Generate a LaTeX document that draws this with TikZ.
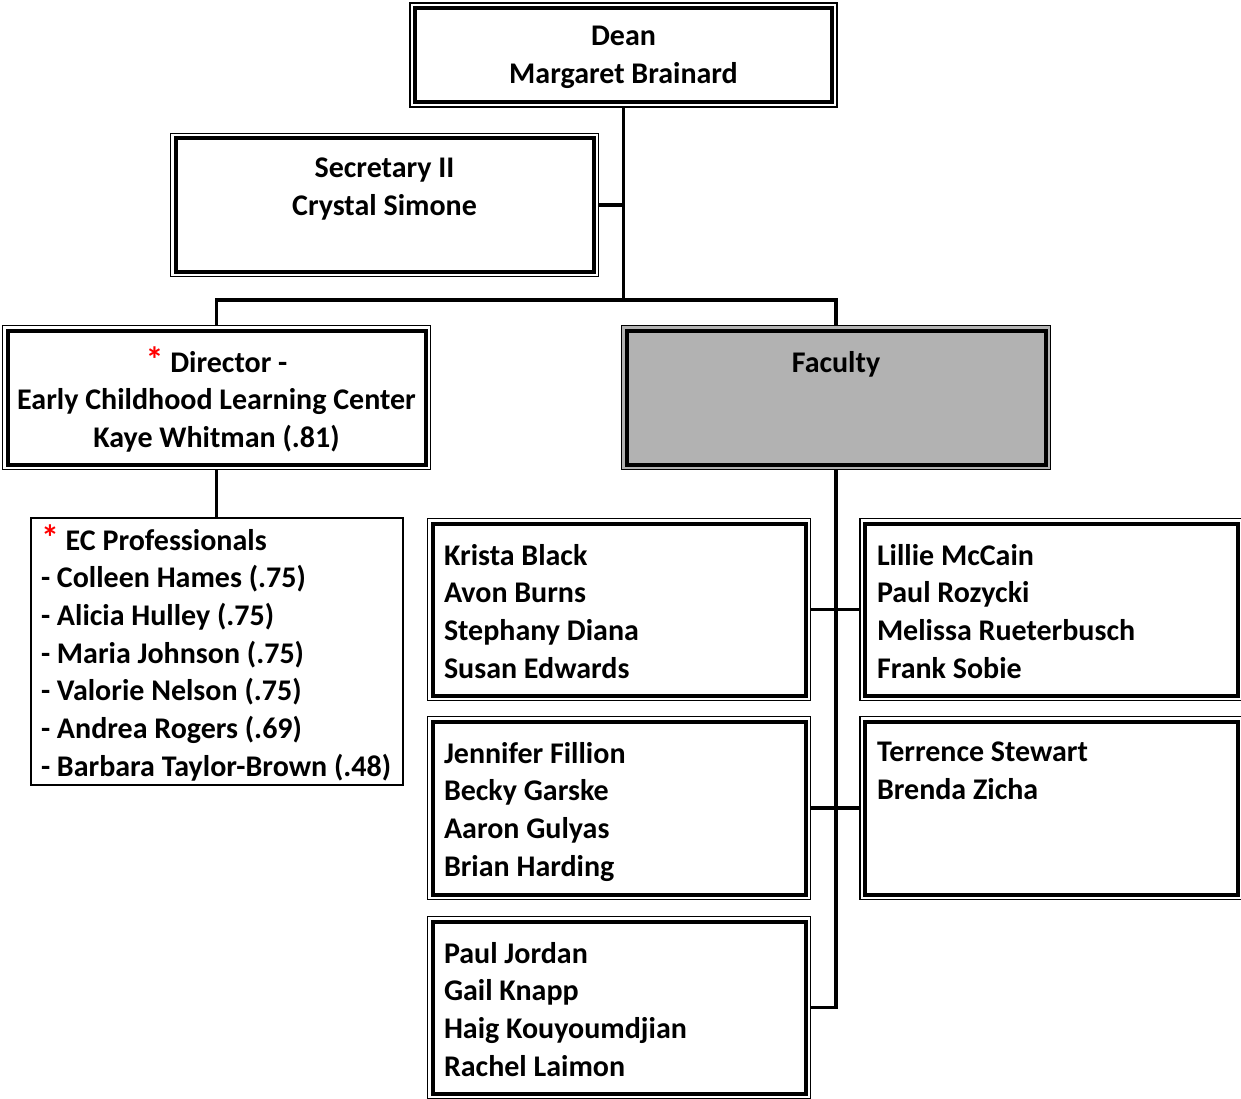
\documentclass[tikz,border=0pt]{standalone}
\usepackage{fontspec}
\setmainfont{Carlito}
\newcommand{\redstar}{\smash{\color{red}\fontsize{36}{37.7}\selectfont *}}
\begin{document}
\begin{tikzpicture}[x=1pt,y=-1pt,
  every node/.style={inner sep=0pt, outer sep=0pt},
  dbox/.style={draw, line width=1.3pt, rectangle,
    path picture={\draw[line width=4pt]
      ([shift={(5pt,-5pt)}]path picture bounding box.north west) rectangle
      ([shift={(-5pt,5pt)}]path picture bounding box.south east);}},
  sbox/.style={draw, line width=1.5pt, rectangle},
  txt/.style={font=\fontsize{30}{37.7}\selectfont\bfseries, inner sep=0pt},
  conn/.style={line width=3.8pt}
]
\useasboundingbox (0,0) rectangle (1241,1099);
\definecolor{facgray}{HTML}{B2B2B2}
% boxes
\node[dbox, minimum width=427pt, minimum height=104pt] (dean) at (623.5,55) {};
\node[dbox, minimum width=428pt, minimum height=143pt] (sec) at (384.5,205) {};
\node[dbox, minimum width=428pt, minimum height=144pt] (dir) at (216.5,397.5) {};
\node[dbox, fill=facgray, minimum width=429pt, minimum height=144pt] (fac) at (836,397.5) {};
\node[sbox, minimum width=372pt, minimum height=267pt] (ec) at (217,651.5) {};
\node[dbox, minimum width=383pt, minimum height=182pt] (k1) at (619,609.5) {};
\node[dbox, minimum width=383pt, minimum height=182pt] (l1) at (1051.5,609.5) {};
\node[dbox, minimum width=383pt, minimum height=183pt] (j1) at (619,808) {};
\node[dbox, minimum width=383pt, minimum height=183pt] (t1) at (1051.5,808) {};
\node[dbox, minimum width=383pt, minimum height=182pt] (p1) at (619,1007.5) {};
% connectors
\coordinate (bus) at (0,300);
\draw[conn] (dean.south) -- (dean.south |- bus);
\draw[conn] (sec.east) -- (sec.east -| dean.south);
\draw[conn] (dir.north) |- (dean.south |- bus) -| (fac.north);
\draw[conn] (dir.south) -- (dir.south |- ec.north);
\draw[conn] (fac.south) |- (p1.east);
\draw[conn] (k1.east) -- (l1.west);
\draw[conn] (j1.east) -- (t1.west);
% texts
\node[txt, align=center, anchor=north] (tdean) at (623.5,26) {Dean\\Margaret Brainard};
\node[txt, align=center, anchor=north] (tsec) at (384.5,158) {Secretary II\\Crystal Simone};
\node[txt, align=center, anchor=north] (tdir) at (216.5,351) {\redstar{} Director -\\Early Childhood Learning Center\\Kaye Whitman (.81)};
\node[txt, align=center, anchor=north] (tfac) at (836,351) {Faculty};
\node[txt, align=left, anchor=north west] (tec) at (41,529) {\redstar{} EC Professionals\\- Colleen Hames (.75)\\- Alicia Hulley (.75)\\- Maria Johnson (.75)\\- Valorie Nelson (.75)\\- Andrea Rogers (.69)\\- Barbara Taylor-Brown (.48)};
\node[txt, align=left, anchor=north west] (tk1) at (444,544) {Krista Black\\Avon Burns\\Stephany Diana\\Susan Edwards};
\node[txt, align=left, anchor=north west] (tl1) at (877,544) {Lillie McCain\\Paul Rozycki\\Melissa Rueterbusch\\Frank Sobie};
\node[txt, align=left, anchor=north west] (tj1) at (444,742) {Jennifer Fillion\\Becky Garske\\Aaron Gulyas\\Brian Harding};
\node[txt, align=left, anchor=north west] (tt1) at (877,742) {Terrence Stewart\\Brenda Zicha};
\node[txt, align=left, anchor=north west] (tp1) at (444,942) {Paul Jordan\\Gail Knapp\\Haig Kouyoumdjian\\Rachel Laimon};
\end{tikzpicture}
\end{document}
